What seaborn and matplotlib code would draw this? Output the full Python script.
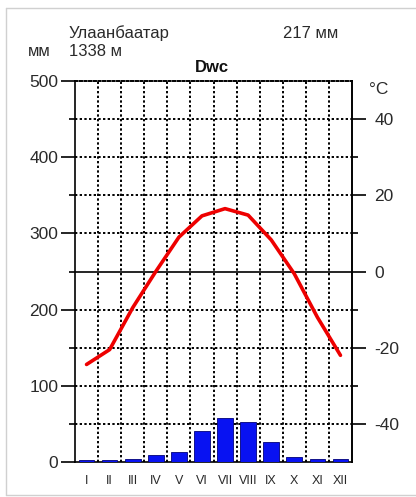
import numpy as np
import pandas as pd
import seaborn as sns
import matplotlib.pyplot as plt
from matplotlib.lines import Line2D

# climate data, Ulaanbaatar
months = ["I", "II", "III", "IV", "V", "VI", "VII", "VIII", "IX", "X", "XI", "XII"]
precip = [2, 2, 4, 9, 13, 41, 58, 52, 26, 7, 4, 4]  # mm
temp = [-24.4, -20.5, -9.5, 0.0, 9.0, 14.6, 16.5, 14.8, 8.3, -0.6, -12.0, -22.0]  # °C
station = "Улаанбаатар"
elevation = "1338 м"
total = "217 мм"
climate = "Dwc"

df = pd.DataFrame({"month": months, "precip": precip, "temp": temp, "pos": np.arange(12)})

sns.set_style("white")
plt.rcParams["font.family"] = ["Liberation Sans", "DejaVu Sans"]
plt.rcParams["axes.unicode_minus"] = False

txt = "#2a2a2a"
fig = plt.figure(figsize=(4.16, 4.97), dpi=100)
ax = fig.add_axes([75 / 416, 35 / 497, 277 / 416, 381 / 497])

# precipitation bars
sns.barplot(data=df, x="month", y="precip", color="#0812f2", saturation=1,
            width=0.68, edgecolor="#00007a", linewidth=0.6, ax=ax, zorder=3)

ax.set_xlim(-0.5, 11.5)
ax.set_ylim(0, 500)
ax.set_xlabel("")
ax.set_ylabel("")

dot = (0, (1.2, 1.2))
for xv in np.arange(0.5, 11, 1):
    ax.axvline(xv, color="black", lw=1.4, ls=dot, zorder=1)
for yv in range(50, 500, 50):
    if yv == 250:
        ax.axhline(yv, color="black", lw=1.2, zorder=2)
    else:
        ax.axhline(yv, color="black", lw=1.4, ls=dot, zorder=1)

ax.set_yticks(range(0, 501, 100))
ax.set_yticks(range(50, 500, 100), minor=True)
ax.tick_params(axis="y", which="major", length=10, width=1.2, color="black",
               labelsize=12.5, pad=2, labelcolor=txt, left=True)
ax.tick_params(axis="y", which="minor", length=4.5, width=1.2, color="black", left=True)
ax.tick_params(axis="x", length=0, pad=9, labelsize=9, labelcolor=txt)

for s in ["left", "right", "bottom"]:
    ax.spines[s].set_color("black")
    ax.spines[s].set_linewidth(1.2)
ax.spines["top"].set_linestyle(dot)
ax.spines["top"].set_linewidth(1.4)
ax.spines["top"].set_color("black")

# temperature line
ax2 = ax.twinx()
sns.lineplot(data=df, x="pos", y="temp", color="#ee0000", lw=2.6, ax=ax2, zorder=4)
ax2.set_ylim(-50, 50)
ax2.set_xlim(-0.5, 11.5)
ax2.set_ylabel("")
ax2.set_yticks(range(-40, 41, 20))
ax2.set_yticks([-30, -10, 10, 30], minor=True)
ax2.tick_params(axis="y", which="major", length=10, width=1.2, color="black",
                labelsize=12.5, pad=6, labelcolor=txt, right=True)
ax2.tick_params(axis="y", which="minor", length=4.5, width=1.2, color="black", right=True)
for s in ["left", "top", "bottom"]:
    ax2.spines[s].set_visible(False)
ax2.spines["right"].set_color("black")
ax2.spines["right"].set_linewidth(1.2)

# header texts
fig.text(69 / 416, 1 - 33 / 497, station, fontsize=12, va="center", color=txt)
fig.text(283 / 416, 1 - 33 / 497, total, fontsize=12, va="center", color=txt)
fig.text(28 / 416, 1 - 52 / 497, "мм", fontsize=12, va="center", color=txt)
fig.text(69 / 416, 1 - 52 / 497, elevation, fontsize=12, va="center", color=txt)
fig.text(212 / 416, 1 - 68 / 497, climate, fontsize=12, fontweight="bold",
         ha="center", va="center", color="#111111")
fig.text(369 / 416, 1 - 89 / 497, "°C", fontsize=12.5, va="center", color=txt)

# light thumbnail frame
frame = dict(color="#d0d0d0", lw=1, transform=fig.transFigure)
fig.add_artist(Line2D([6 / 416, 1], [1 - 8 / 497, 1 - 8 / 497], **frame))
fig.add_artist(Line2D([6 / 416, 6 / 416], [1 - 8 / 497, 1 - 495 / 497], **frame))
fig.add_artist(Line2D([6 / 416, 1], [1 - 495 / 497, 1 - 495 / 497], **frame))

fig.savefig("out.png", dpi=100)
